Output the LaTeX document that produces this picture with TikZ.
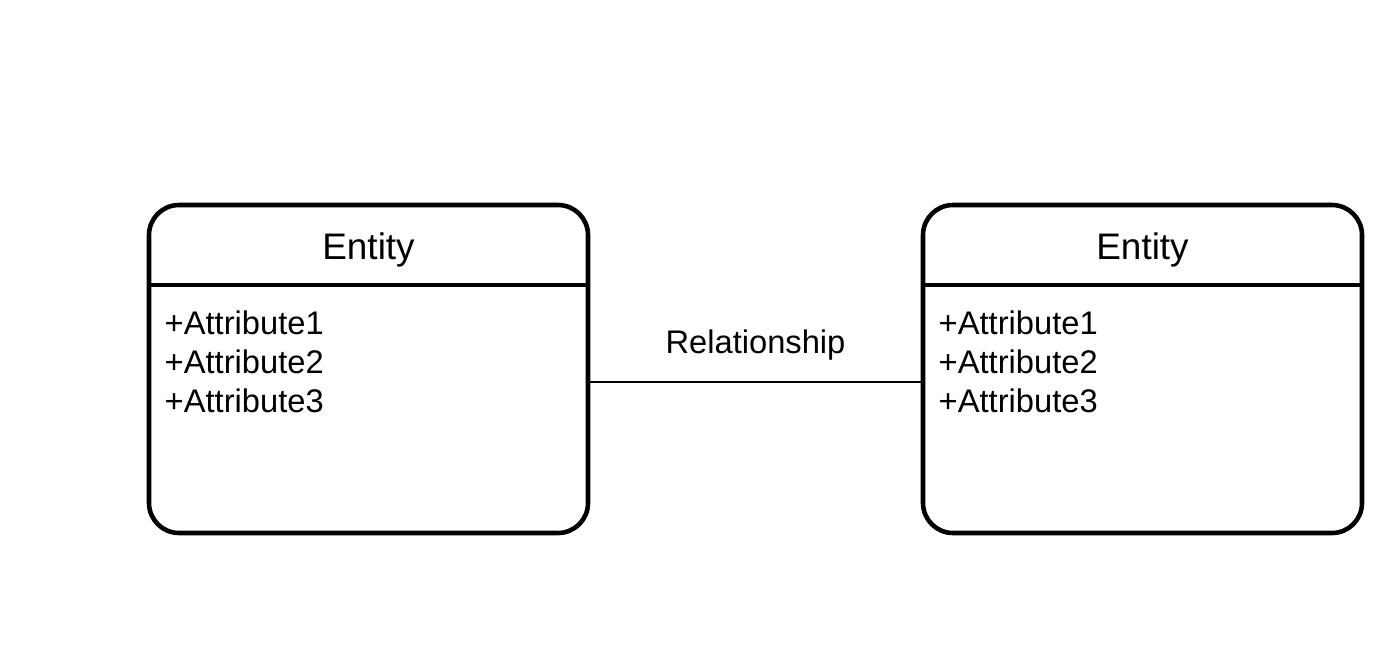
\documentclass[tikz,border=0pt]{standalone}
\usepackage{fontspec}
\setmainfont{Liberation Sans}
\usepackage{tikz}
\usetikzlibrary{positioning}
\tikzset{
    entity-box/.style = {draw=black, fill=white, line width=1.3pt, rectangle, rounded corners=0.3cm, minimum width=4.39cm, minimum height=3.28cm, outer sep=0pt, inner sep=0pt},
    entity-title/.style = {font=\fontsize{10.5}{12}\selectfont, anchor=base, inner sep=0pt},
    entity-attr/.style = {font=\fontsize{9.3}{11}\selectfont, anchor=base west, inner sep=0pt},
}

\begin{document}
\begin{tikzpicture}
\useasboundingbox (0,0) rectangle (14,6.54);
\node [entity-box] (ent1) at (3.685,2.85) {};
\node [entity-box] (ent2) at (11.425,2.85) {};
% header lines
\draw [line width=1.3pt] ([yshift=-0.80cm]ent1.north west) -- ([yshift=-0.80cm]ent1.north east);
\draw [line width=1.3pt] ([yshift=-0.80cm]ent2.north west) -- ([yshift=-0.80cm]ent2.north east);
\node [entity-title] (ent1-title) at ([yshift=-0.54cm]ent1.north) {Entity};
\node [entity-title] (ent2-title) at ([yshift=-0.54cm]ent2.north) {Entity};
\foreach \i in {1,2,3} {
    \node [entity-attr] (ent1-a\i) at ([xshift=0.15cm, yshift={-0.90cm-0.39cm*\i}]ent1.north west) {+Attribute\i};
    \node [entity-attr] (ent2-a\i) at ([xshift=0.15cm, yshift={-0.90cm-0.39cm*\i}]ent2.north west) {+Attribute\i};
}
% relationship
\draw [line width=0.6pt] ([yshift=-0.13cm]ent1.east) -- ([yshift=-0.13cm]ent2.west)
    node [midway, anchor=base, yshift=0.29cm, inner sep=0pt, font=\fontsize{9.3}{11}\selectfont] (rel) {Relationship};
\end{tikzpicture}
\end{document}
